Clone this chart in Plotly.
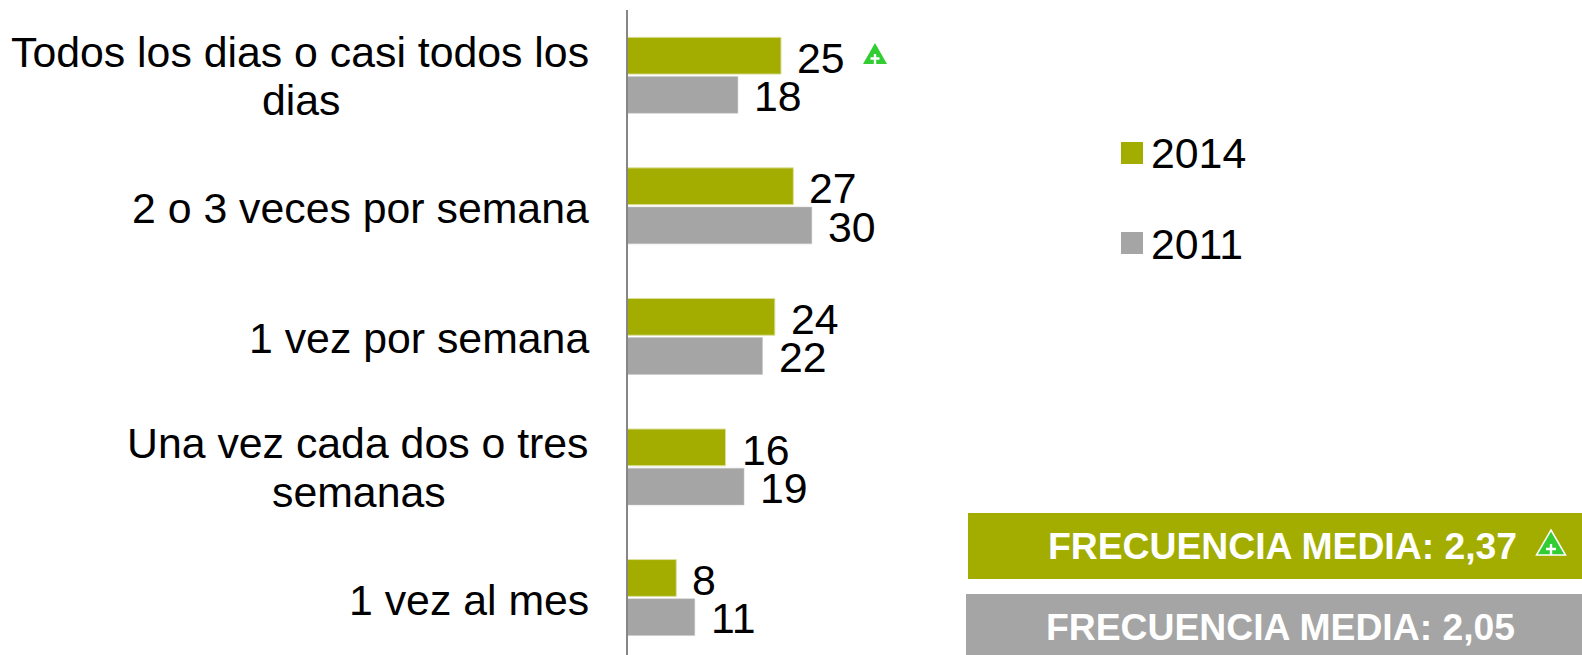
import plotly.graph_objects as go

W, H = 1582, 655
categories = ["Todos los dias o casi todos los<br>dias", "2 o 3 veces por semana", "1 vez por semana",
              "Una vez cada dos o tres<br>semanas", "1 vez al mes"]
values_2014 = [25, 27, 24, 16, 8]
values_2011 = [18, 30, 22, 19, 11]
series_names = ["2014", "2011"]
summary_texts = ["FRECUENCIA MEDIA: 2,37", "FRECUENCIA MEDIA: 2,05"]
GREEN, GRAY = "#A2AD00", "#A5A5A5"
TRI = "#32CD32"
FONT = "Liberation Sans"
FS = 42.8

px = lambda x: x / W
py = lambda y: 1 - y / H
idx = list(range(len(categories)))

fig = go.Figure()
fig.add_bar(y=idx, x=values_2014, orientation="h", name=series_names[0], marker_color=GREEN,
            marker_line=dict(color="#DDE0A0", width=1), showlegend=False)
fig.add_bar(y=idx, x=values_2011, orientation="h", name=series_names[1], marker_color=GRAY,
            marker_line=dict(color="#C8C8C8", width=0.5), showlegend=False)

ann, shapes = [], []
def text(x, y, s, size=FS, color="black", bold=False, anchor="left", xref="paper", yref="paper", xshift=0, yshift=0, align="left"):
    ann.append(dict(x=x, y=y, text=f"<b>{s}</b>" if bold else s, xref=xref, yref=yref, xanchor=anchor, yanchor="middle",
                    showarrow=False, xshift=xshift, yshift=yshift, align=align, borderpad=0,
                    font=dict(family=FONT, size=size, color=color)))
def rect(x0, y0, x1, y1, color):
    shapes.append(dict(type="rect", xref="paper", yref="paper", x0=px(x0), x1=px(x1), y0=py(y0), y1=py(y1),
                       fillcolor=color, line_width=0, layer="below"))
def path(points, color, line=None):
    d = "M" + " L".join(f"{px(a):.5f},{py(b):.5f}" for a, b in points) + " Z"
    shapes.append(dict(type="path", xref="paper", yref="paper", path=d, fillcolor=color,
                       line=dict(color=line or color, width=1.5 if line else 0), layer="above"))
def tri(cx, top, bottom, half, arm, pc, outline=None):
    path([(cx, top), (cx + half, bottom), (cx - half, bottom)], TRI, outline)
    my = bottom - arm - 1
    t = 1.2
    path([(cx - t, my - arm), (cx + t, my - arm), (cx + t, my - t), (cx + arm, my - t), (cx + arm, my + t),
          (cx + t, my + t), (cx + t, bottom), (cx - t, bottom), (cx - t, my + t), (cx - arm, my + t),
          (cx - arm, my - t), (cx - t, my - t)], pc)

second_line_center = {0: 301, 3: 359}
for i, c in enumerate(categories):
    lines = c.split("<br>")
    if len(lines) == 1:
        text(px(590), i, c, anchor="right", yref="y", yshift=-2)
    else:
        text(px(590), i, lines[0], anchor="right", yref="y", yshift=23.5)
        text(px(second_line_center[i]), i, lines[1], anchor="center", yref="y", yshift=-25)
    text(values_2014[i], i - 0.145, str(values_2014[i]), xref="x", yref="y", xshift=15, yshift=-1.5)
    text(values_2011[i], i + 0.145, str(values_2011[i]), xref="x", yref="y", xshift=15, yshift=-2)

# legend
rect(1121, 142, 1143, 164, GREEN)
rect(1121, 232, 1143, 254, GRAY)
text(px(1150), py(153), series_names[0])
text(px(1150), py(244), series_names[1])
tri(875, 43, 64, 12, 4.5, "white")

# summary boxes
rect(968, 513, W, 579, GREEN)
rect(966, 594, W, H, GRAY)
text(px(1282.5), py(546), summary_texts[0], size=37.3, color="white", bold=True, anchor="center")
text(px(1280.5), py(627), summary_texts[1], size=37.3, color="white", bold=True, anchor="center")
tri(1551, 530, 555, 14.5, 5, "white", outline="white")

fig.update_layout(
    width=W, height=H, margin=dict(l=0, r=0, t=0, b=0), paper_bgcolor="white", plot_bgcolor="white",
    barmode="group", bargap=0.40, bargroupgap=0.06, annotations=ann, shapes=shapes,
    xaxis=dict(domain=[px(627), 1], range=[0, 155], visible=False),
    yaxis=dict(domain=[0, py(10)], range=[4.44, -0.5], showticklabels=False, showgrid=False, zeroline=False,
               ticks="", anchor="free", position=px(627), showline=True, linecolor="#868686", linewidth=2),
)
fig.write_html("out.html", config={"displayModeBar": False},
               post_script="document.body.style.margin='0';document.body.style.overflow='hidden';")
